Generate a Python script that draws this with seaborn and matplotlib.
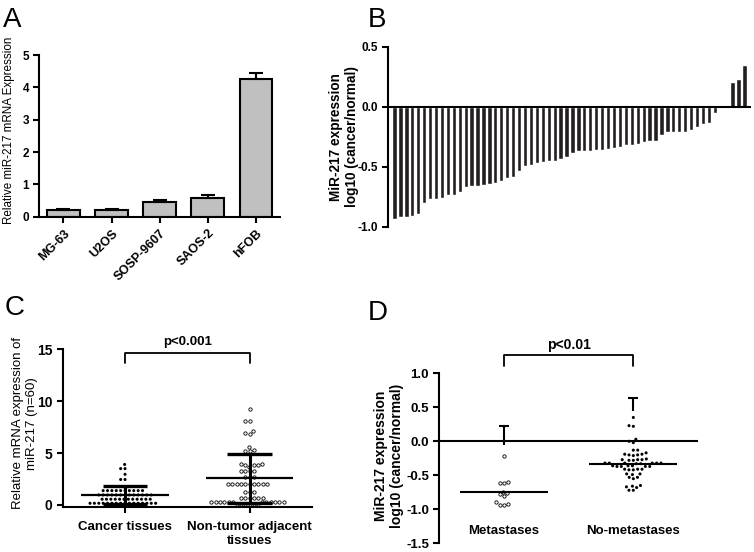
import numpy as np
import pandas as pd
import matplotlib
matplotlib.use("Agg")
import matplotlib.pyplot as plt
import seaborn as sns

sns.set_style("ticks")
plt.rcParams['font.family'] = ['Liberation Sans', 'DejaVu Sans']
plt.rcParams['axes.unicode_minus'] = False
plt.rcParams['axes.edgecolor'] = 'black'
plt.rcParams['axes.labelcolor'] = 'black'
plt.rcParams['text.color'] = 'black'
plt.rcParams['xtick.color'] = 'black'
plt.rcParams['ytick.color'] = 'black'

# A: cell lines
cell_lines = ['MG-63', 'U2OS', 'SOSP-9607', 'SAOS-2', 'hFOB']
cell_expr = [0.22, 0.20, 0.45, 0.57, 4.25]
cell_err = [0.03, 0.04, 0.06, 0.10, 0.20]

# B: log10 ratio per patient (sorted)
b_log_ratio = [-0.93, -0.92, -0.92, -0.91, -0.89, -0.80, -0.77, -0.77, -0.76, -0.73,
               -0.73, -0.71, -0.67, -0.66, -0.66, -0.65, -0.64, -0.63, -0.62, -0.59,
               -0.58, -0.53, -0.49, -0.48, -0.47, -0.46, -0.45, -0.45, -0.43, -0.42,
               -0.38, -0.37, -0.37, -0.37, -0.36, -0.36, -0.35, -0.34, -0.33, -0.32,
               -0.32, -0.31, -0.29, -0.28, -0.28, -0.23, -0.21, -0.21, -0.21, -0.21,
               -0.19, -0.17, -0.14, -0.13, -0.05, 0.0, 0.02, 0.21, 0.23, 0.35]

# C: tissues
c_groups = ['Cancer tissues', 'Non-tumor adjacent\ntissues']
cancer_vals = [0.16, 0.16, 0.16, 0.16, 0.16, 0.16, 0.16, 0.16, 0.16, 0.16, 0.16, 0.16, 0.16, 0.16, 0.16, 0.16,
               0.55, 0.55, 0.55, 0.55, 0.55, 0.55, 0.55, 0.55, 0.55, 0.55, 0.55, 0.55,
               0.96, 0.96, 0.96, 0.96, 0.96, 0.96, 0.96, 0.96, 0.96, 0.96, 0.96, 0.96, 0.96,
               1.38, 1.38, 1.38, 1.38, 1.38, 1.38, 1.38, 1.38, 1.38, 1.38,
               1.76, 1.76, 1.76, 2.45, 2.45, 2.95, 3.5, 3.5, 3.9]
adjacent_vals = [9.2, 8.1, 8.1, 7.1, 6.9, 6.8, 5.6, 5.3, 5.2, 5.2,
                 3.9, 3.8, 3.8, 3.8, 3.7, 3.9, 3.3, 3.3, 3.3, 3.3, 2.7, 2.7, 2.7,
                 2.0, 2.0, 2.0, 2.0, 2.0, 2.0, 2.0, 2.0, 2.0, 2.0,
                 1.25, 1.25, 1.25, 0.7, 0.7, 0.7, 0.7, 0.7, 0.7,
                 0.3, 0.3, 0.3, 0.3, 0.3, 0.3, 0.3, 0.3, 0.3, 0.3, 0.3, 0.3,
                 0.05, 0.05, 0.05, 0.05, 0.05, 0.05]
c_mean = [0.98, 2.57]
c_sd_low = [0.10, 0.22]
c_sd_high = [1.86, 4.90]
c_p = 'p<0.001'

# D: metastasis
d_groups = ['Metastases', 'No-metastases']
met_vals = [-0.22, -0.60, -0.61, -0.61, -0.74, -0.76, -0.78, -0.80, -0.90, -0.92, -0.93, -0.93]
nomet_vals = [0.35, 0.23, 0.22, 0.03, 0.0, -0.02, -0.13, -0.13,
              -0.19, -0.19, -0.20, -0.20, -0.21, -0.17,
              -0.26, -0.27, -0.27, -0.27, -0.28, -0.28,
              -0.32, -0.32, -0.32, -0.32, -0.32, -0.32, -0.33, -0.33,
              -0.36, -0.36, -0.37, -0.37, -0.37, -0.37, -0.36,
              -0.41, -0.41, -0.42, -0.42, -0.41,
              -0.48, -0.48, -0.49, -0.53, -0.53, -0.55,
              -0.65, -0.66, -0.67, -0.68, -0.72, -0.72]
d_mean = [-0.74, -0.34]
d_err_low = [-0.05, 0.45]
d_err_high = [0.22, 0.63]
d_p = 'p<0.01'

W, H = 754, 552
fig = plt.figure(figsize=(W / 100, H / 100), dpi=100)


def add_ax(left, top, right, bottom):
    # pixel box -> figure fraction
    return fig.add_axes([left / W, 1 - bottom / H, (right - left) / W, (bottom - top) / H])


def style(ax, size):
    sns.despine(ax=ax)
    for s in ['left', 'bottom']:
        ax.spines[s].set_linewidth(1.5)
    ax.tick_params(width=1.5, length=4, labelsize=size)
    for t in ax.get_xticklabels() + ax.get_yticklabels():
        t.set_fontweight('bold')


# ---- A
axA = add_ax(39.3, 55, 280, 216.7)
sns.barplot(x=cell_lines, y=cell_expr, order=cell_lines, color='#c0c0c0', saturation=1,
            edgecolor='black', linewidth=1.5, width=0.68, errorbar=None, ax=axA)
axA.errorbar(np.arange(len(cell_lines)), cell_expr, yerr=[np.zeros(len(cell_err)), cell_err],
             fmt='none', ecolor='black', elinewidth=1.5, capsize=5, capthick=1.5)
axA.set_xlim(-0.5, 4.5)
axA.set_ylim(0, 5)
axA.set_yticks(range(6))
axA.set_xticks(range(len(cell_lines)), cell_lines, rotation=45, ha='right', rotation_mode='anchor')
axA.set_xlabel('')
axA.set_ylabel('Relative miR-217 mRNA Expression', fontsize=8.4)
axA.yaxis.set_label_coords(-0.10, 0.536)
style(axA, 8.5)
for t in axA.get_xticklabels():
    t.set_fontsize(9)

# ---- B
axB = add_ax(388.3, 47, 750.7, 227)
sns.barplot(x=np.arange(len(b_log_ratio)), y=b_log_ratio, color='#231f20', saturation=1,
            width=0.72, errorbar=None, ax=axB)
axB.axhline(0, color='black', lw=1.5)
axB.set_xlim(-1.05, len(b_log_ratio) + 0.05)
axB.set_ylim(-1, 0.5)
axB.set_yticks([-1, -0.5, 0, 0.5], ['-1.0', '-0.5', '0.0', '0.5'])
axB.set_xticks([])
axB.set_xlabel('')
axB.set_ylabel('MiR-217 expression\nlog10 (cancer/normal)', fontsize=9.8, fontweight='bold')
axB.yaxis.set_label_coords(-0.08, 0.5)
style(axB, 8.5)
axB.spines['bottom'].set_visible(False)

# ---- C
axC = add_ax(62.7, 349.3, 312, 507)
sns.swarmplot(x=[c_groups[0]] * len(cancer_vals), y=cancer_vals, order=c_groups, color='black',
              size=2.2, edgecolor='none', linewidth=0.8, ax=axC)
sns.swarmplot(x=[c_groups[1]] * len(adjacent_vals), y=adjacent_vals, order=c_groups, color='white',
              size=2.4, edgecolor='black', linewidth=0.6, ax=axC)
for i in range(2):
    axC.hlines(c_mean[i], i - 0.35, i + 0.35, color='black', lw=1.6, zorder=5)
    axC.vlines(i, c_sd_low[i], c_sd_high[i], color='black', lw=2.2, zorder=5)
    axC.hlines([c_sd_low[i], c_sd_high[i]], i - 0.18, i + 0.18, color='black', lw=2.4, zorder=5)
axC.plot([0, 0, 1, 1], [13.7, 14.67, 14.67, 13.7], color='black', lw=1.3, clip_on=False)
axC.text(0.5, 15.7, c_p, ha='center', va='center', fontsize=9.5, fontweight='bold')
axC.set_xlim(-0.5, 1.5)
axC.set_ylim(-0.2, 15)
axC.set_yticks([0, 5, 10, 15])
axC.set_ylabel('Relative mRNA expression of\nmiR-217 (n=60)', fontsize=9.5)
axC.yaxis.set_label_coords(-0.099, 0.53)
style(axC, 10)
axC.tick_params(axis='x', labelsize=9.5, pad=6)

# ---- D
axD = add_ax(439.3, 373.3, 698, 543.3)
axD.axhline(0, color='black', lw=1.5)
sns.swarmplot(x=[d_groups[0]] * len(met_vals), y=met_vals, order=d_groups, color='white',
              size=2.4, edgecolor='black', linewidth=0.6, ax=axD)
sns.swarmplot(x=[d_groups[1]] * len(nomet_vals), y=nomet_vals, order=d_groups, color='black',
              size=2.2, edgecolor='none', linewidth=0.8, ax=axD)
for i in range(2):
    axD.hlines(d_mean[i], i - 0.34, i + 0.34, color='black', lw=1.5, zorder=5)
    axD.vlines(i, d_err_low[i], d_err_high[i], color='black', lw=1.5, zorder=5)
    axD.hlines(d_err_high[i], i - 0.04, i + 0.04, color='black', lw=1.5, zorder=5)
axD.plot([0, 0, 1, 1], [1.11, 1.27, 1.27, 1.11], color='black', lw=1.3, clip_on=False)
axD.text(0.5, 1.42, d_p, ha='center', va='center', fontsize=10, fontweight='bold')
axD.set_xlim(-0.5, 1.5)
axD.set_ylim(-1.5, 1.0)
axD.set_yticks([-1.5, -1, -0.5, 0, 0.5, 1], ['-1.5', '-1.0', '-0.5', '0.0', '0.5', '1.0'])
axD.set_ylabel('MiR-217 expression\nlog10 (cancer/normal)', fontsize=10, fontweight='bold')
axD.yaxis.set_label_coords(-0.136, 0.516)
style(axD, 9.5)
axD.spines['bottom'].set_visible(False)
axD.tick_params(axis='x', length=0, pad=-13)

# panel letters
for letter, x, y in [('A', 3, 27), ('B', 368, 27), ('C', 5, 315), ('D', 368, 320)]:
    fig.text(x / W, 1 - y / H, letter, fontsize=20, va='baseline', ha='left')

fig.savefig('out.png', dpi=100)
